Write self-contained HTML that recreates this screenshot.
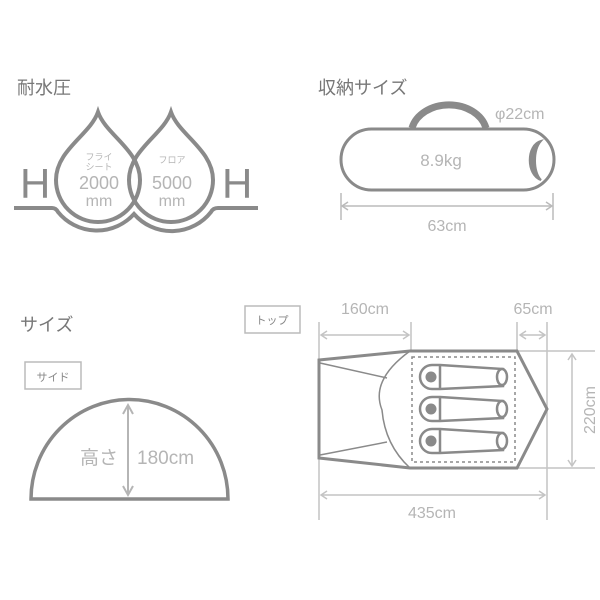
<!DOCTYPE html>
<html><head><meta charset="utf-8"><style>
html,body{margin:0;padding:0;background:#fff;}
svg{display:block}
text{font-family:"Liberation Sans","Noto Sans CJK JP",sans-serif;}
</style></head><body>
<svg width="600" height="600" viewBox="0 0 600 600" xmlns="http://www.w3.org/2000/svg">
<!-- Water pressure -->
<text x="17" y="94" font-size="18" fill="#777">耐水圧</text>
<g fill="none" stroke="#8a8a8a" stroke-width="4">
<path d="M98,112 C106,135 140,150 140,180 A42,42 0 1 1 56,180 C56,150 90,135 98,112 Z"/>
<path d="M171,112 C179,135 213,150 213,180 A42,42 0 1 1 129,180 C129,150 163,135 171,112 Z"/>
<path d="M14,208 H52 Q56,208 58,212 A50,50 0 0 0 134,214 A50,50 0 0 0 211,212 Q213,208 218,208 H258"/>
</g>
<text x="20" y="198" font-size="42" fill="#8a8a8a">H</text>
<text x="222" y="198" font-size="42" fill="#8a8a8a">H</text>
<g fill="#b5b5b5" text-anchor="middle">
<text x="99" y="160" font-size="9">フライ</text>
<text x="99" y="170" font-size="9">シート</text>
<text x="99" y="189" font-size="18">2000</text>
<text x="99" y="206" font-size="16">mm</text>
<text x="172" y="163" font-size="9">フロア</text>
<text x="172" y="189" font-size="18">5000</text>
<text x="172" y="206" font-size="16">mm</text>
</g>
<!-- Storage -->
<text x="318" y="94" font-size="18" fill="#777">収納サイズ</text>
<path d="M412,128 A38,30 0 0 1 486,128" fill="none" stroke="#8a8a8a" stroke-width="7"/>
<rect x="341" y="129" width="213" height="61" rx="30.5" fill="#fff" stroke="#8a8a8a" stroke-width="3"/>
<path d="M541,141 C526,145 526,175 541,180 C533,172 533,150 541,141 Z" fill="#8a8a8a" stroke="#8a8a8a" stroke-width="2"/>
<text x="441" y="166" font-size="17" fill="#b5b5b5" text-anchor="middle">8.9kg</text>
<text x="495" y="119" font-size="16" fill="#b5b5b5">φ22cm</text>
<g stroke="#bbb" stroke-width="1.5" fill="none">
<path d="M341,193 V220 M553,193 V220 M342,206 H552"/>
<path d="M348,202 L342,206 L348,210 M546,202 L552,206 L546,210"/>
</g>
<text x="447" y="231" font-size="16" fill="#b5b5b5" text-anchor="middle">63cm</text>
<!-- Size -->
<text x="20" y="331" font-size="18" fill="#777">サイズ</text>
<rect x="25" y="362" width="56" height="27" fill="#fff" stroke="#bbb" stroke-width="1.5"/>
<text x="53" y="381" font-size="11" fill="#888" text-anchor="middle">サイド</text>
<path d="M31,499 A98,99 0 0 1 228,499 Z" fill="none" stroke="#8a8a8a" stroke-width="3.5"/>
<g stroke="#b5b5b5" stroke-width="2" fill="none">
<path d="M128,406 V494 M123,414 L128,405 L133,414 M123,486 L128,495 L133,486"/>
</g>
<text x="80" y="464" font-size="19" fill="#b5b5b5">高さ</text>
<text x="137" y="464" font-size="19" fill="#b5b5b5">180cm</text>
<!-- Top -->
<rect x="245" y="306" width="55" height="27" fill="#fff" stroke="#bbb" stroke-width="1.5"/>
<text x="272" y="324" font-size="11" fill="#888" text-anchor="middle">トップ</text>
<g stroke="#c4c4c4" stroke-width="1.5" fill="none">
<path d="M319,322 V520 M411,322 V351 M517,322 V351 M547,322 V520 M517,351 H595 M517,468 H595"/>
<path d="M321,335 H409 M327,331 L321,335 L327,339 M403,331 L409,335 L403,339"/>
<path d="M520,335 H545 M526,331 L520,335 L526,339 M539,331 L545,335 L539,339"/>
<path d="M572,354 V466 M568,360 L572,354 L576,360 M568,460 L572,466 L576,460"/>
<path d="M321,495 H545 M327,491 L321,495 L327,499 M539,491 L545,495 L539,499"/>
</g>
<text x="365" y="314" font-size="16" fill="#b5b5b5" text-anchor="middle">160cm</text>
<text x="533" y="314" font-size="16" fill="#b5b5b5" text-anchor="middle">65cm</text>
<text x="432" y="518" font-size="16" fill="#b5b5b5" text-anchor="middle">435cm</text>
<text transform="translate(595,410) rotate(-90)" font-size="16" fill="#b5b5b5" text-anchor="middle">220cm</text>
<path d="M319,360 L410,351 H517 L547,409 L517,468 H410 L319,458 Z" fill="#fff" stroke="#8a8a8a" stroke-width="3"/>
<g stroke="#8a8a8a" stroke-width="1.5" fill="none">
<path d="M410,351 Q370,380 382,410 Q385,445 410,468"/>
<path d="M320,363 L387,378 M320,455 L387,442"/>
<rect x="412" y="357" width="103" height="105" stroke-dasharray="3,3"/>
</g>
<g stroke="#8a8a8a" stroke-width="2.5" fill="#fff">
<g id="bag">
<path d="M440,365 L503,369 V386 L440,389 H432 A12,12 0 0 1 432,365 Z"/>
<path d="M440,365 V389"/>
<ellipse cx="502" cy="377" rx="5" ry="8"/>
<circle cx="431" cy="377" r="5.5" fill="#8a8a8a" stroke="none"/>
</g>
<use href="#bag" transform="translate(0,32)"/>
<use href="#bag" transform="translate(0,64)"/>
</g>
</svg>
</body></html>
